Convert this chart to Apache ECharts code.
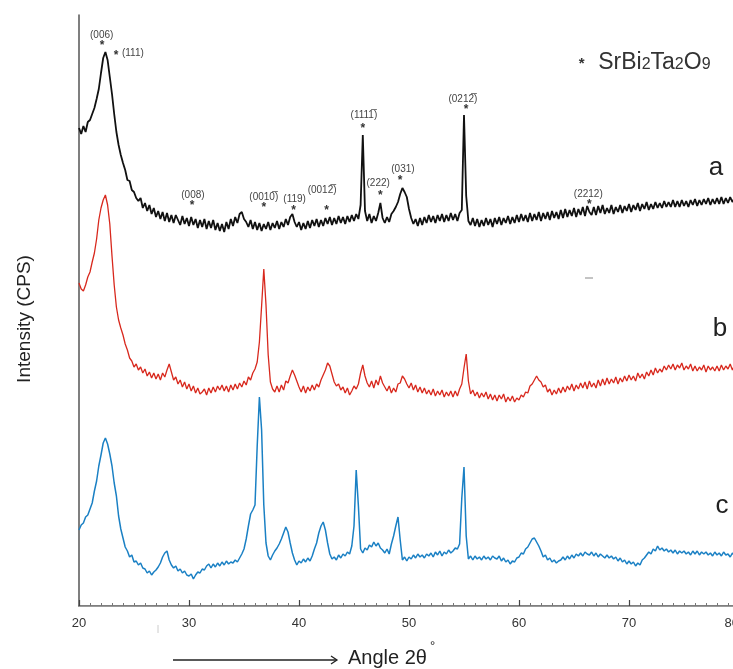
<!DOCTYPE html>
<html><head><meta charset="utf-8">
<script src="https://cdn.jsdelivr.net/npm/echarts@6/dist/echarts.min.js"></script>
<style>html,body{margin:0;padding:0;background:#fff}#c{width:733px;height:669px}</style>
</head><body><div id="c"></div>
<script>
// 2θ scan: start and step (degrees)
const twoThetaStart = 20;
const twoThetaStep = 0.2;

// sample a (black), offset intensities
const intensityA = [
478,472,480,474,484,486,492,498,507,517,
533,548,554,546,529,512,492,474,461,451,
443,436,426,425,416,414,408,405,408,398,
403,395,401,392,398,389,395,387,394,385,
393,384,391,383,391,386,381,390,382,388,
380,389,381,387,378,386,379,387,377,385,
378,386,376,383,375,382,374,384,377,387,
380,389,383,392,394,387,384,379,386,377,
384,376,383,375,382,377,384,376,383,378,
385,377,384,379,387,381,389,392,384,379,
384,376,383,377,385,378,386,380,387,379,
386,380,388,382,389,381,388,382,390,383,
389,382,390,384,391,385,392,387,401,471,
395,385,392,383,390,385,393,403,388,383,
389,384,392,395,399,404,412,418,414,409,
397,388,382,387,380,388,381,389,383,391,
384,390,383,391,385,392,384,391,385,393,
386,392,385,393,396,491,410,385,381,388,
380,387,379,386,380,388,381,387,379,388,
382,389,381,388,383,390,382,389,383,391,
384,392,385,391,384,393,385,392,386,394,
385,393,387,394,386,395,388,394,387,396,
388,397,389,396,390,398,389,397,391,399,
390,400,394,391,399,391,400,393,401,392,
398,393,401,392,399,394,401,393,400,395,
402,394,401,396,403,395,402,397,404,396,
402,397,404,398,403,398,405,399,404,399,
406,399,405,399,406,400,405,399,406,401,
407,400,406,401,407,402,408,401,407,402,
408,402,409,402,408,403,409,404,408,403,
407
];

// sample b (red)
const intensityB = [
323,317,315,321,329,334,344,353,367,386,
398,406,411,401,382,350,321,299,286,278,
271,262,256,248,245,239,242,236,239,233,
237,230,234,228,233,227,232,226,233,229,
236,242,234,226,229,222,226,219,224,217,
222,215,220,213,218,212,214,217,211,218,
213,219,214,220,216,221,215,220,214,221,
216,222,217,223,219,225,221,229,226,233,
237,244,264,300,337,301,251,224,217,214,
220,214,221,216,225,223,230,236,231,225,
219,214,220,213,219,215,221,216,222,219,
226,231,236,243,240,232,224,220,222,216,
219,213,218,211,215,220,217,222,233,241,
230,223,219,225,218,226,221,230,223,219,
215,220,213,218,214,222,223,230,227,222,
218,223,216,221,214,219,213,218,212,216,
211,217,210,215,211,216,209,214,210,215,
209,215,210,217,222,238,252,225,212,216,
210,214,208,213,209,214,207,212,206,211,
205,211,207,212,204,209,205,210,204,208,
206,211,209,214,213,220,222,226,230,226,
224,219,221,214,217,211,216,212,218,213,
219,214,220,216,222,215,221,217,223,218,
224,217,225,219,223,218,226,220,227,221,
228,222,227,223,229,222,228,224,230,225,
231,226,230,225,233,228,232,227,234,230,
236,231,238,233,237,234,240,236,241,237,
242,236,241,238,243,236,240,237,242,235,
240,235,239,236,241,234,240,236,239,235,
240,235,241,236,240,237,242,236,241,238,
240
];

// sample c (blue)
const intensityC = [
76,81,83,89,91,97,103,115,125,140,
151,163,168,162,152,140,123,110,90,77,
68,59,55,49,51,44,45,41,43,38,
37,33,35,31,34,36,39,43,49,53,
55,46,41,38,40,35,37,33,35,31,
30,32,27,31,34,33,37,36,40,42,
38,42,39,43,40,44,41,45,42,44,
43,46,44,48,52,57,67,80,92,96,
101,160,209,176,101,63,50,46,51,55,
58,62,67,73,79,74,63,53,46,41,
45,43,47,44,48,45,50,57,63,73,
80,84,76,63,52,47,49,46,51,48,
52,50,54,52,60,80,136,100,57,53,
58,56,61,59,64,60,63,58,56,53,
57,52,62,70,80,89,66,46,49,45,
49,47,51,48,52,49,51,48,52,50,
53,49,54,51,55,50,54,52,56,53,
55,58,57,62,108,139,70,47,50,46,
50,47,49,46,50,47,49,46,50,48,
47,50,45,48,44,46,42,45,44,48,
49,53,52,57,59,63,67,68,64,60,
55,49,51,46,48,44,46,43,45,46,
49,46,50,47,51,48,52,50,53,50,
54,52,51,54,50,53,49,52,50,48,
51,48,50,47,49,45,48,44,46,42,
45,42,44,40,43,41,46,48,51,54,
52,57,55,60,56,58,55,57,54,56,
53,56,52,55,53,55,52,54,51,55,
52,55,51,54,52,54,51,53,50,54,
51,53,50,54,51,52,49,53,50,52,
51
];

const xMin = 20, xMax = 80, xInterval = 10;
const sampleNames = ['a', 'b', 'c'];
const sampleNameAt = [[77.9, 438], [78.27, 277], [78.45, 100]];

// Miller-index annotations on pattern a: text, text position, asterisk position (2θ, intensity)
const hklText = ['(006)', '(111)', '(008)', '(0010\u0305)', '(119)', '(0012\u0305)', '(1111\u0305)', '(222)', '(031)', '(0212\u0305)', '(2212)'];
const hklTextAt = [[22.06, 571], [24.9, 553], [30.36, 411], [36.8, 409], [39.6, 407], [42.1, 416], [45.9, 491], [47.2, 423], [49.45, 437], [54.9, 507], [66.3, 412]];
const hklStarAt = [[22.1, 563], [23.36, 553], [30.27, 403], [36.8, 401], [39.5, 398], [42.5, 398], [45.8, 480], [47.4, 413], [49.2, 428], [55.2, 499], [66.4, 404]];

const toPairs = arr => arr.map((v, i) => [+(twoThetaStart + i * twoThetaStep).toFixed(1), v]);

const FONT = '"Liberation Sans", Arial, sans-serif';
const chart = echarts.init(document.getElementById('c'), null, {renderer: 'canvas'});

const option = {
  animation: false,
  backgroundColor: '#fff',
  grid: {left: 79, top: 15, width: 660, height: 591, containLabel: false, outerBoundsMode: 'none'},
  xAxis: [{
    type: 'value', min: xMin, max: xMax, interval: xInterval,
    axisLine: {show: true, onZero: false, lineStyle: {color: '#555', width: 1.5}},
    axisTick: {show: true, inside: true, length: 6, lineStyle: {color: '#444', width: 1.2}},
    minorTick: {show: true, splitNumber: 10, length: 3, lineStyle: {color: '#777', width: 1}},
    splitLine: {show: false},
    axisLabel: {show: true, margin: 11, fontSize: 13, fontFamily: FONT, color: '#333', alignMaxLabel: 'right'}
  }, {
    type: 'value', position: 'top', min: xMin, max: xMax,
    axisLine: {show: true, lineStyle: {color: '#999', width: 1}},
    axisTick: {show: false}, axisLabel: {show: false}, splitLine: {show: false}
  }],
  yAxis: {
    type: 'value', min: 0, max: 591,
    axisLine: {show: true, onZero: false, lineStyle: {color: '#555', width: 1.5}},
    axisTick: {show: false}, axisLabel: {show: false}, splitLine: {show: false}
  },
  series: [
    {name: 'a', type: 'line', data: toPairs(intensityA), showSymbol: false, symbol: 'none',
     lineStyle: {color: '#111', width: 1.8}, itemStyle: {color: '#111'}},
    {name: 'b', type: 'line', data: toPairs(intensityB), showSymbol: false, symbol: 'none',
     lineStyle: {color: '#d8281d', width: 1.3}, itemStyle: {color: '#d8281d'}},
    {name: 'c', type: 'line', data: toPairs(intensityC), showSymbol: false, symbol: 'none',
     lineStyle: {color: '#1a80c4', width: 1.5}, itemStyle: {color: '#1a80c4'}}
  ]
};
chart.setOption(option);

const px = p => chart.convertToPixel({gridIndex: 0}, p);
const graphics = [];

// Miller indices
hklText.forEach((t, i) => {
  const p = px(hklTextAt[i]);
  graphics.push({type: 'text', x: p[0], y: p[1], silent: true,
    style: {text: t, font: '10px ' + FONT, fill: '#444', align: 'center', verticalAlign: 'middle'}});
  const s = px(hklStarAt[i]);
  graphics.push({type: 'text', x: s[0], y: s[1] + 3, silent: true,
    style: {text: '*', font: 'bold 12px ' + FONT, fill: '#333', align: 'center', verticalAlign: 'middle'}});
});

// sample names
sampleNames.forEach((n, i) => {
  const p = px(sampleNameAt[i]);
  graphics.push({type: 'text', x: p[0], y: p[1], silent: true,
    style: {text: n, font: '26px ' + FONT, fill: '#222', align: 'center', verticalAlign: 'middle'}});
});

// phase key
const keyStar = px([65.7, 546]);
graphics.push({type: 'text', x: keyStar[0], y: keyStar[1] + 4, silent: true,
  style: {text: '*', font: 'bold 15px ' + FONT, fill: '#333', align: 'center', verticalAlign: 'middle'}});
const keyText = px([67.2, 544]);
graphics.push({type: 'text', x: keyText[0], y: keyText[1], silent: true,
  style: {text: '{m|SrBi}{s|2}{m|Ta}{s|2}{m|O}{s|9}', align: 'left', verticalAlign: 'middle',
    rich: {m: {fontSize: 23, fontFamily: FONT, fill: '#333', lineHeight: 25, verticalAlign: 'bottom'},
           s: {fontSize: 16, fontFamily: FONT, fill: '#333', lineHeight: 25, verticalAlign: 'bottom', padding: [0, 0, 2, 0]}}}});

// y axis title
graphics.push({type: 'text', x: 25, y: 319, rotation: Math.PI / 2, silent: true,
  style: {text: 'Intensity (CPS)', font: '19px ' + FONT, fill: '#222', align: 'center', verticalAlign: 'middle'}});

// x axis title with arrow
graphics.push({type: 'line', silent: true, shape: {x1: 173, y1: 660, x2: 337, y2: 660}, style: {stroke: '#222', lineWidth: 1.3}});
graphics.push({type: 'polyline', silent: true, shape: {points: [[331, 656], [337, 660], [331, 664]]}, style: {stroke: '#222', lineWidth: 1.3, fill: null}});
graphics.push({type: 'text', x: 348, y: 658, silent: true,
  style: {text: 'Angle 2θ', font: '20px ' + FONT, fill: '#222', align: 'left', verticalAlign: 'middle'}});
graphics.push({type: 'text', x: 430, y: 646, silent: true,
  style: {text: '°', font: '13px ' + FONT, fill: '#222', align: 'left', verticalAlign: 'middle'}});

// small stray marks in the original figure
graphics.push({type: 'line', silent: true, shape: {x1: 585, y1: 278, x2: 593, y2: 278}, style: {stroke: '#888', lineWidth: 1}});
graphics.push({type: 'line', silent: true, shape: {x1: 158, y1: 625, x2: 158, y2: 633}, style: {stroke: '#ccc', lineWidth: 1}});

chart.setOption({graphic: graphics});
</script>
</body></html>
